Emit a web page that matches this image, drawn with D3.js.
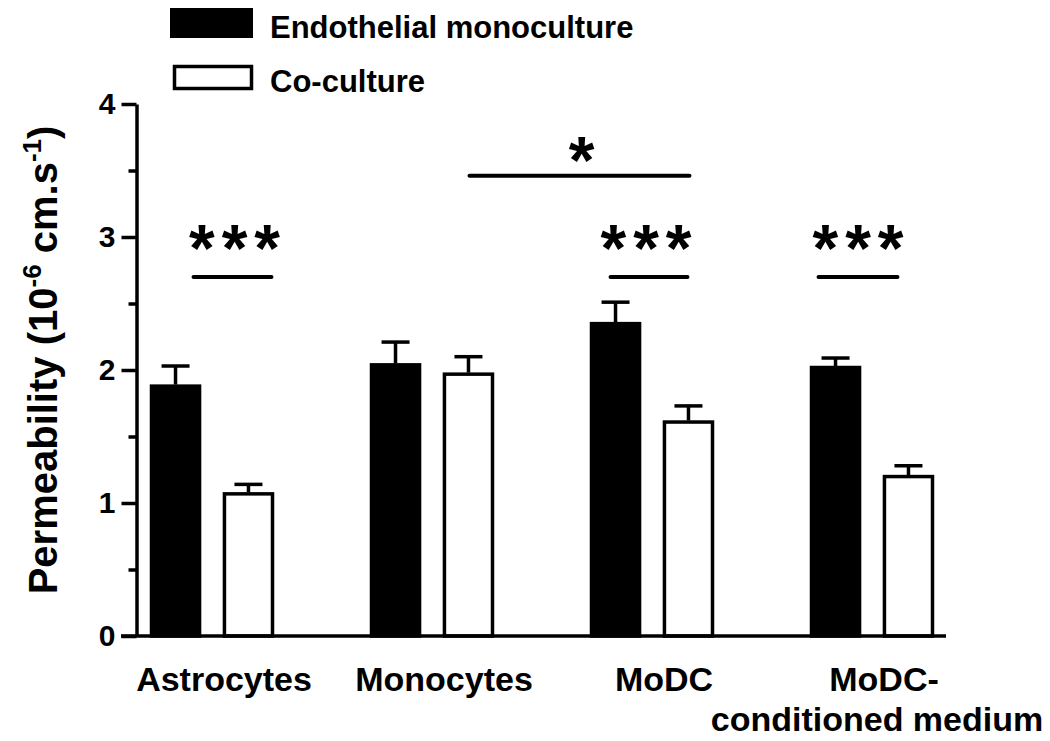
<!DOCTYPE html>
<html>
<head>
<meta charset="utf-8">
<script src="https://cdn.jsdelivr.net/npm/d3@7"></script>
<style>
  body { margin: 0; background: #fff; }
  text { font-family: Arial, "Liberation Sans", sans-serif; font-weight: bold; fill: #000; }
</style>
</head>
<body>
<div id="chart"></div>
<script>
// data
var categories = ["Astrocytes", "Monocytes", "MoDC", "MoDC-conditioned medium"];
var catLines = [["Astrocytes"], ["Monocytes"], ["MoDC"], ["MoDC-", "conditioned medium"]];
var seriesNames = ["Endothelial monoculture", "Co-culture"];
var monoValues = [1.89, 2.05, 2.36, 2.03];
var monoErrors = [0.14, 0.16, 0.15, 0.06];
var coValues = [1.08, 1.98, 1.62, 1.21];
var coErrors = [0.06, 0.12, 0.11, 0.07];
var yTicks = [0, 1, 2, 3, 4];
var yMinorTicks = [0.5, 1.5, 2.5, 3.5];

// significance marks: [group, series] pairs, level, label
var sigFrom = [[0, 0], [2, 0], [3, 0], [1, 1]];
var sigTo = [[0, 1], [2, 1], [3, 1], [2, 1]];
var sigLevel = [2.7, 2.7, 2.7, 3.46];
var sigLabel = ["***", "***", "***", "*"];

// layout tweaks for the hand placed marks
var sigShift = [[18, 23], [-5, -1], [-17, -11], [1, 1]];
var sigBase = [-6, -6, -6, 7];
var sigTextDx = [2, -3, 0, 2];

var svgWidth = 1050, svgHeight = 741;

var svg = d3.select("#chart")
  .append("svg")
  .attr("width", svgWidth)
  .attr("height", svgHeight);

var y = d3.scaleLinear()
  .domain([0, 4])
  .range([636, 104]);

var x0 = d3.scaleBand()
  .domain(categories)
  .range([150, 934])
  .paddingInner(96 / 220)
  .paddingOuter(0);

var x1 = d3.scaleBand()
  .domain(seriesNames)
  .range([0, x0.bandwidth()])
  .paddingInner(0.3);

var rows = categories.map(function (c, i) {
  return [
    { cat: c, s: seriesNames[0], v: monoValues[i], e: monoErrors[i] },
    { cat: c, s: seriesNames[1], v: coValues[i], e: coErrors[i] }
  ];
});
var flat = [].concat.apply([], rows);

function cx(gi, si) {
  return x0(categories[gi]) + x1(seriesNames[si]) + x1.bandwidth() / 2;
}

// y axis, major ticks with labels
var axisX = 136.5;
var gy = svg.append("g")
  .attr("transform", "translate(" + axisX + ",0)")
  .call(d3.axisLeft(y).tickValues(yTicks).tickSize(15).tickSizeOuter(0).tickPadding(6).tickFormat(d3.format("d")));
gy.select(".domain").attr("stroke-width", 3.5);
gy.selectAll(".tick line").attr("stroke-width", 3.5);
gy.selectAll(".tick text")
  .style("font-size", "30px")
  .style("font-family", "Arial, 'Liberation Sans', sans-serif")
  .style("font-weight", "bold");

// minor ticks
var gm = svg.append("g")
  .attr("transform", "translate(" + axisX + ",0)")
  .call(d3.axisLeft(y).tickValues(yMinorTicks).tickSize(8).tickSizeOuter(0).tickFormat(""));
gm.select(".domain").remove();
gm.selectAll(".tick line").attr("stroke-width", 3.5);

// bars
svg.append("g")
  .selectAll("rect")
  .data(flat)
  .enter()
  .append("rect")
  .attr("x", function (d) { return x0(d.cat) + x1(d.s) + 1.5; })
  .attr("y", function (d) { return y(d.v) + 1.5; })
  .attr("width", x1.bandwidth() - 3)
  .attr("height", function (d) { return y(0) - y(d.v) - 1.5; })
  .attr("fill", function (d) { return d.s === seriesNames[0] ? "#000" : "#fff"; })
  .attr("stroke", "#000")
  .attr("stroke-width", 3.5);

// error bars (upper only)
var eb = svg.append("g").attr("stroke", "#000").attr("stroke-width", 3.5);
eb.selectAll("line.v")
  .data(flat)
  .enter()
  .append("line")
  .attr("class", "v")
  .attr("x1", function (d) { return x0(d.cat) + x1(d.s) + x1.bandwidth() / 2; })
  .attr("x2", function (d) { return x0(d.cat) + x1(d.s) + x1.bandwidth() / 2; })
  .attr("y1", function (d) { return y(d.v); })
  .attr("y2", function (d) { return y(d.v + d.e); });
eb.selectAll("line.cap")
  .data(flat)
  .enter()
  .append("line")
  .attr("class", "cap")
  .attr("x1", function (d) { return x0(d.cat) + x1(d.s) + x1.bandwidth() / 2 - 14; })
  .attr("x2", function (d) { return x0(d.cat) + x1(d.s) + x1.bandwidth() / 2 + 14; })
  .attr("y1", function (d) { return y(d.v + d.e); })
  .attr("y2", function (d) { return y(d.v + d.e); });

// x axis baseline
svg.append("line")
  .attr("x1", 121)
  .attr("x2", 946)
  .attr("y1", y(0))
  .attr("y2", y(0))
  .attr("stroke", "#000")
  .attr("stroke-width", 3.5);

// category labels
var labels = svg.append("g");
categories.forEach(function (c, i) {
  var t = labels.append("text")
    .attr("y", 691)
    .attr("text-anchor", "middle")
    .style("font-size", "34px");
  catLines[i].forEach(function (line, j) {
    t.append("tspan")
      .attr("x", x0(c) + x0.bandwidth() / 2 + (j === 0 ? 12 : 5))
      .attr("dy", j === 0 ? 0 : 40)
      .text(line);
  });
});

// y axis title
var yt = svg.append("text")
  .attr("transform", "translate(57,360) rotate(-90)")
  .attr("text-anchor", "middle")
  .style("font-size", "40px");
yt.append("tspan").text("Permeability (10");
yt.append("tspan").attr("dy", -16).style("font-size", "26px").text("-6");
yt.append("tspan").attr("dy", 16).text(" cm.s");
yt.append("tspan").attr("dy", -16).style("font-size", "26px").text("-1");
yt.append("tspan").attr("dy", 16).text(")");

// significance lines and stars
var sg = svg.append("g");
sigLabel.forEach(function (lab, i) {
  var xa = cx(sigFrom[i][0], sigFrom[i][1]) + sigShift[i][0];
  var xb = cx(sigTo[i][0], sigTo[i][1]) + sigShift[i][1];
  var ly = y(sigLevel[i]);
  sg.append("line")
    .attr("x1", xa).attr("x2", xb)
    .attr("y1", ly).attr("y2", ly)
    .attr("stroke", "#000")
    .attr("stroke-width", 4)
    .attr("stroke-linecap", "round");
  sg.append("text")
    .attr("x", (xa + xb) / 2 + sigTextDx[i] + (lab.length > 1 ? 3.5 : 0))
    .attr("y", ly + sigBase[i])
    .attr("text-anchor", "middle")
    .style("font-size", "66px")
    .style("letter-spacing", lab.length > 1 ? "7px" : "0px")
    .text(lab);
});

// legend
var legend = svg.append("g");
legend.append("rect")
  .attr("x", 170).attr("y", 8)
  .attr("width", 83).attr("height", 30)
  .attr("fill", "#000");
legend.append("rect")
  .attr("x", 174.5).attr("y", 66.5)
  .attr("width", 77).attr("height", 22)
  .attr("fill", "#fff")
  .attr("stroke", "#000")
  .attr("stroke-width", 3.5);
legend.selectAll("text.leg")
  .data(seriesNames)
  .enter()
  .append("text")
  .attr("class", "leg")
  .attr("x", 270)
  .attr("y", function (d, i) { return i === 0 ? 38 : 92; })
  .style("font-size", "31px")
  .text(function (d) { return d; });
</script>
</body>
</html>
